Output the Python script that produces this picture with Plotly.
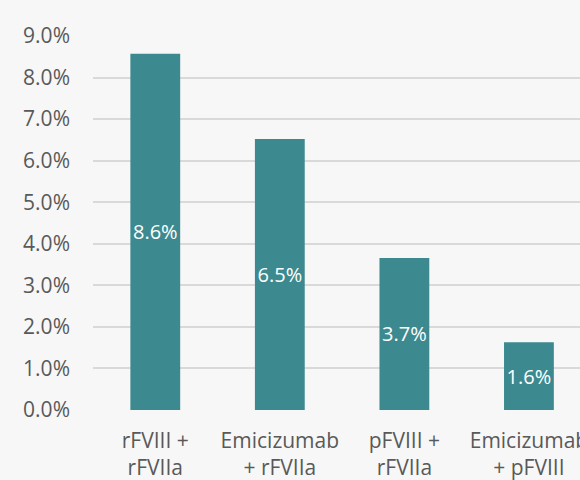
import plotly.graph_objects as go

categories = ["rFVIII +<br>rFVIIa", "Emicizumab<br>+ rFVIIa", "pFVIII +<br>rFVIIa", "Emicizumab<br>+ pFVIII"]
values = [0.0857, 0.0652, 0.0366, 0.0163]
labels = ["8.6%", "6.5%", "3.7%", "1.6%"]
y_ticks = [i / 100 for i in range(0, 10)]

BAR = "#3c8a90"
TXT = "#595959"
BG = "#f7f7f7"
FONT = "Open Sans"

fig = go.Figure(go.Bar(
    x=list(range(len(categories))),
    y=values,
    text=labels,
    textposition="inside",
    insidetextanchor="middle",
    textangle=0,
    constraintext="none",
    cliponaxis=False,
    textfont=dict(color="white", size=20, family=FONT),
    marker=dict(color=BAR, line=dict(width=0)),
    hoverinfo="skip",
))

fig.update_layout(
    width=580, height=480,
    margin=dict(l=93, r=0, t=36, b=70, autoexpand=False),
    paper_bgcolor=BG, plot_bgcolor=BG,
    bargap=0.6,
    showlegend=False,
    font=dict(family=FONT, color=TXT, size=20),
    uniformtext=dict(mode=False),
)
fig.update_xaxes(
    tickmode="array", tickvals=list(range(len(categories))), ticktext=categories,
    range=[-0.5, 3.41], showgrid=False, zeroline=False, showline=False,
    tickfont=dict(size=21, color=TXT, family=FONT), ticks="", ticklabelstandoff=16,
    ticklabeloverflow="allow", automargin=False,
)
fig.update_yaxes(
    range=[0, 0.09], tickmode="array", tickvals=y_ticks, tickformat=".1%",
    showgrid=True, gridcolor="#d9d9d9", gridwidth=2, zeroline=False, showline=False,
    tickfont=dict(size=21, color=TXT, family=FONT), ticks="", ticklabelstandoff=22,
    automargin=False,
)

fig.write_html("out.html")
